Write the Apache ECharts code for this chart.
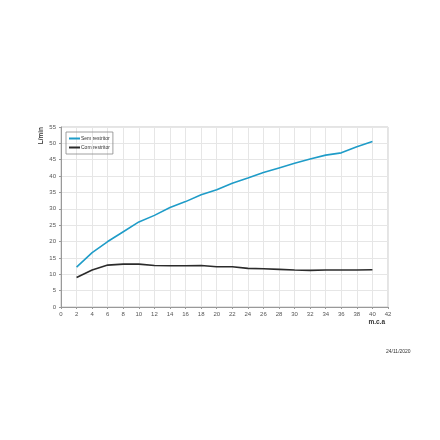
<!DOCTYPE html>
<html><head><meta charset="utf-8">
<script src="https://cdn.jsdelivr.net/npm/echarts@6/dist/echarts.min.js"></script>
<style>html,body{margin:0;padding:0;background:#fff}#c{width:440px;height:440px}</style>
</head><body><div id="c"></div>
<script>
const xValues = [2,4,6,8,10,12,14,16,18,20,22,24,26,28,30,32,34,36,38,40];
const semRestritor = [12.2,16.6,20.0,23.0,26.0,28.0,30.4,32.2,34.3,35.8,37.8,39.4,41.1,42.5,43.9,45.2,46.4,47.1,49.0,50.6];
const comRestritor = [9.0,11.3,12.8,13.1,13.1,12.7,12.6,12.6,12.7,12.3,12.3,11.8,11.7,11.5,11.3,11.2,11.3,11.3,11.3,11.4];
const seriesNames = ['Sem restritor','Com restritor'];
const dateText = '24/11/2020';

const chart = echarts.init(document.getElementById('c'), null, {renderer:'canvas'});
const pair = (xs, ys) => xs.map((x,i)=>[x, ys[i]]);
chart.setOption({
  animation:false,
  backgroundColor:'#fff',
  textStyle:{fontFamily:'Liberation Sans, Arial, sans-serif'},
  grid:{left:61, top:127, right:52, bottom:133, show:true, borderColor:'#c8c8c8', borderWidth:1},
  legend:{
    left:66, top:132, orient:'vertical', itemGap:4, itemWidth:11, itemHeight:2,
    icon:'rect', borderColor:'#888', borderWidth:0.8, padding:[4,3,4,3],
    textStyle:{fontSize:5, color:'#333', padding:[0,0,0,-4]},
    data:seriesNames
  },
  xAxis:{type:'value', min:0, max:42, interval:2,
    name:'m.c.a', nameLocation:'end', nameGap:0,
    nameTextStyle:{fontSize:6.5, fontWeight:'bold', color:'#333', align:'right', verticalAlign:'top', padding:[12,3,0,0]},
    axisLine:{lineStyle:{color:'#999'}}, axisTick:{show:true, length:2, lineStyle:{color:'#999'}},
    axisLabel:{fontSize:6, color:'#555', margin:4},
    splitLine:{lineStyle:{color:'#e6e6e6', width:1}}},
  yAxis:{type:'value', min:0, max:55, interval:5,
    name:'L/min', nameLocation:'end', nameRotate:90, nameGap:0,
    nameTextStyle:{fontSize:6.5, fontWeight:'bold', color:'#333', align:'right', verticalAlign:'bottom', padding:[0,0,16,0]},
    axisLine:{show:true, lineStyle:{color:'#999'}}, axisTick:{show:true, length:2, lineStyle:{color:'#999'}},
    axisLabel:{fontSize:6, color:'#555', margin:5},
    splitLine:{lineStyle:{color:'#e6e6e6', width:1}}},
  graphic:[{type:'text', left:386, top:349, style:{text:dateText, fontSize:5, fill:'#333', fontFamily:'Liberation Sans, Arial, sans-serif'}}],
  series:[
    {name:seriesNames[0], type:'line', data:pair(xValues, semRestritor), showSymbol:false, symbol:'none',
      lineStyle:{color:'#1f9cc8', width:1.6}, itemStyle:{color:'#1f9cc8'}},
    {name:seriesNames[1], type:'line', data:pair(xValues, comRestritor), showSymbol:false, symbol:'none',
      lineStyle:{color:'#2b2b2b', width:1.6}, itemStyle:{color:'#2b2b2b'}}
  ]
});
</script></body></html>
